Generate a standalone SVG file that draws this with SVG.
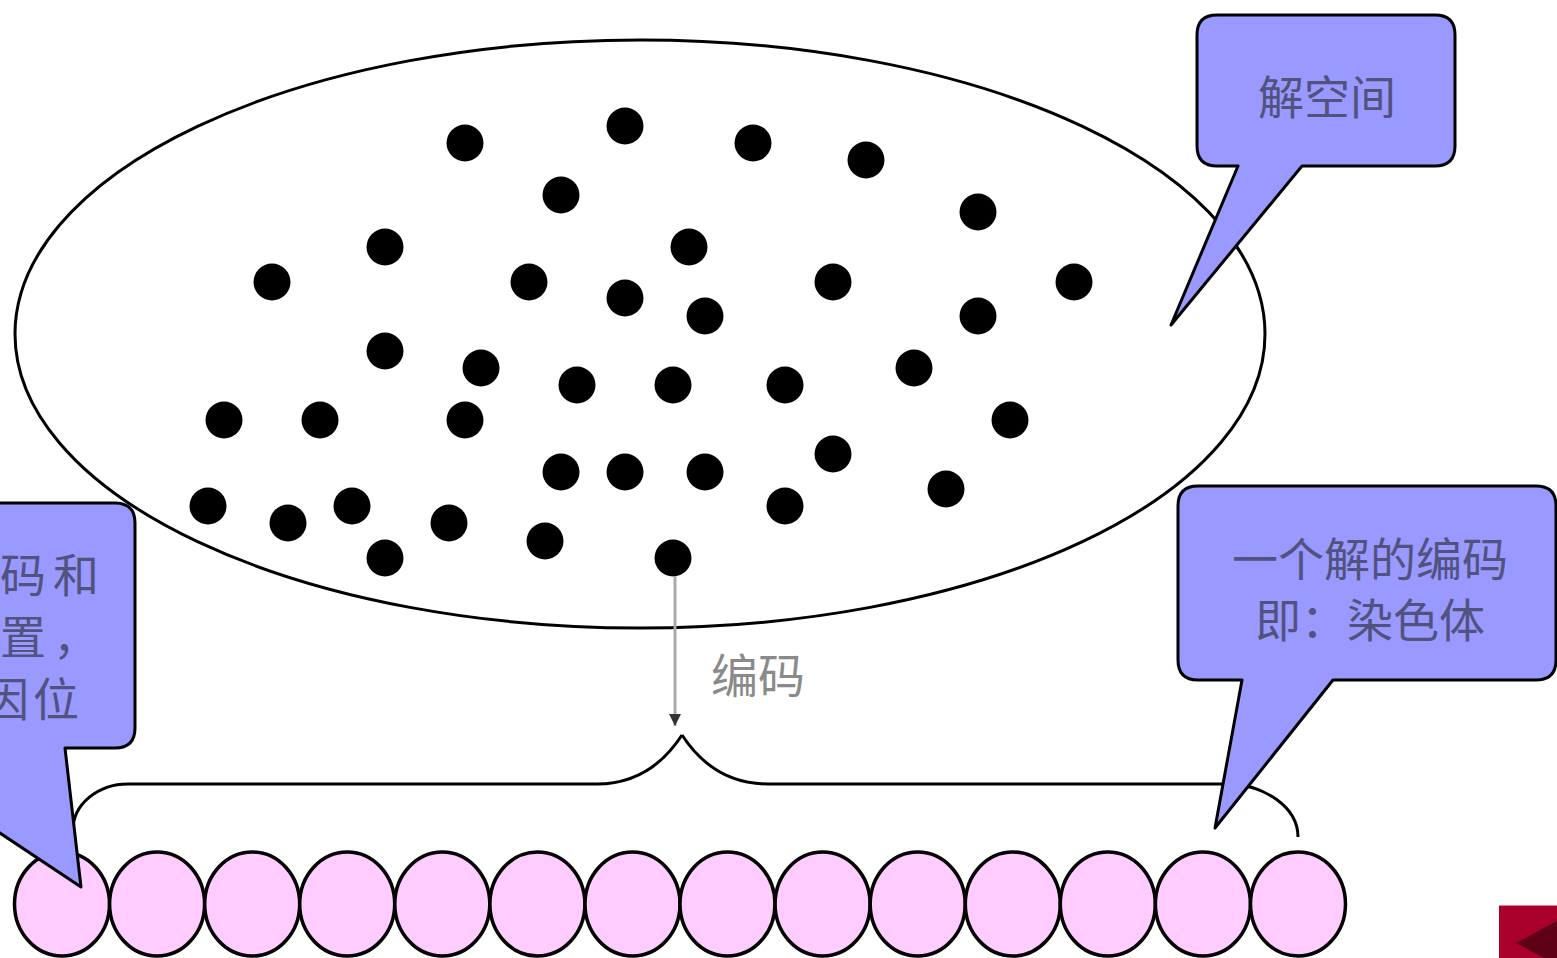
<svg xmlns="http://www.w3.org/2000/svg" width="1557" height="958" viewBox="0 0 1557 958">
<style>
.line{fill:none;stroke:#000;stroke-width:3}
.dot{fill:#000}
.bead{fill:#ffccff;stroke:#000;stroke-width:3.5}
.call{fill:#9999ff;stroke:#000;stroke-width:3;stroke-linejoin:round}
.ct{font-family:"Noto Sans CJK SC","Noto Sans",sans-serif;font-size:46px;fill:#52527e;dominant-baseline:central}
.lbl{font-family:"Noto Sans CJK SC","Noto Sans",sans-serif;font-size:47px;fill:#8a8a8a;dominant-baseline:central}
</style>
<defs>
<marker id="ah" viewBox="0 0 10 10" refX="10" refY="5" markerWidth="12" markerHeight="14" markerUnits="userSpaceOnUse" orient="auto">
<path d="M0,0 L10,5 L0,10 Z" fill="#333"/>
</marker>
</defs>
<rect width="1557" height="958" fill="#fff"/>
<g id="solution-space">
<ellipse cx="640" cy="334" rx="625" ry="294" class="line"/>
<g id="points">
<circle class="dot" cx="465" cy="143" r="18.5"/>
<circle class="dot" cx="625" cy="126" r="18.5"/>
<circle class="dot" cx="753" cy="143" r="18.5"/>
<circle class="dot" cx="866" cy="160" r="18.5"/>
<circle class="dot" cx="561" cy="195" r="18.5"/>
<circle class="dot" cx="978" cy="212" r="18.5"/>
<circle class="dot" cx="385" cy="247" r="18.5"/>
<circle class="dot" cx="689" cy="247" r="18.5"/>
<circle class="dot" cx="272" cy="282" r="18.5"/>
<circle class="dot" cx="529" cy="282" r="18.5"/>
<circle class="dot" cx="625" cy="298" r="18.5"/>
<circle class="dot" cx="705" cy="316" r="18.5"/>
<circle class="dot" cx="833" cy="282" r="18.5"/>
<circle class="dot" cx="1074" cy="282" r="18.5"/>
<circle class="dot" cx="978" cy="316" r="18.5"/>
<circle class="dot" cx="385" cy="351" r="18.5"/>
<circle class="dot" cx="481" cy="368" r="18.5"/>
<circle class="dot" cx="577" cy="385" r="18.5"/>
<circle class="dot" cx="673" cy="385" r="18.5"/>
<circle class="dot" cx="785" cy="385" r="18.5"/>
<circle class="dot" cx="914" cy="368" r="18.5"/>
<circle class="dot" cx="224" cy="420" r="18.5"/>
<circle class="dot" cx="320" cy="420" r="18.5"/>
<circle class="dot" cx="465" cy="420" r="18.5"/>
<circle class="dot" cx="1010" cy="420" r="18.5"/>
<circle class="dot" cx="561" cy="472" r="18.5"/>
<circle class="dot" cx="625" cy="472" r="18.5"/>
<circle class="dot" cx="705" cy="472" r="18.5"/>
<circle class="dot" cx="833" cy="454" r="18.5"/>
<circle class="dot" cx="208" cy="506" r="18.5"/>
<circle class="dot" cx="288" cy="523" r="18.5"/>
<circle class="dot" cx="352" cy="506" r="18.5"/>
<circle class="dot" cx="449" cy="523" r="18.5"/>
<circle class="dot" cx="545" cy="541" r="18.5"/>
<circle class="dot" cx="785" cy="506" r="18.5"/>
<circle class="dot" cx="946" cy="489" r="18.5"/>
<circle class="dot" cx="385" cy="558" r="18.5"/>
<circle class="dot" cx="673" cy="558" r="18.5"/>
</g>
</g>
<g id="connectors">
<line x1="675" y1="576" x2="675" y2="726" stroke="#aaaaaa" stroke-width="3" marker-end="url(#ah)"/>
<text class="lbl" x="758" y="672" text-anchor="middle">编码</text>
<path class="line" d="M682,735 Q650,784 597,784 H128 A55 46 0 0 0 73 830"/>
<path class="line" d="M682,735 Q714,784 768,784 H1225 A73 53 0 0 1 1298 837"/>
</g>
<g id="chromosome">
<ellipse class="bead" cx="62" cy="904" rx="47.5" ry="52"/>
<ellipse class="bead" cx="157.1" cy="904" rx="47.5" ry="52"/>
<ellipse class="bead" cx="252.2" cy="904" rx="47.5" ry="52"/>
<ellipse class="bead" cx="347.2" cy="904" rx="47.5" ry="52"/>
<ellipse class="bead" cx="442.3" cy="904" rx="47.5" ry="52"/>
<ellipse class="bead" cx="537.4" cy="904" rx="47.5" ry="52"/>
<ellipse class="bead" cx="632.5" cy="904" rx="47.5" ry="52"/>
<ellipse class="bead" cx="727.5" cy="904" rx="47.5" ry="52"/>
<ellipse class="bead" cx="822.6" cy="904" rx="47.5" ry="52"/>
<ellipse class="bead" cx="917.7" cy="904" rx="47.5" ry="52"/>
<ellipse class="bead" cx="1012.8" cy="904" rx="47.5" ry="52"/>
<ellipse class="bead" cx="1107.8" cy="904" rx="47.5" ry="52"/>
<ellipse class="bead" cx="1202.9" cy="904" rx="47.5" ry="52"/>
<ellipse class="bead" cx="1298" cy="904" rx="47.5" ry="52"/>
</g>
<g id="callout-space">
<path class="call" d="M1217,15 H1435 Q1455,15 1455,35 V146 Q1455,166 1435,166 H1302 L1171,325 L1238,166 H1217 Q1197,166 1197,146 V35 Q1197,15 1217,15 Z"/>
<text class="ct" x="1327" y="94" text-anchor="middle">解空间</text>
</g>
<g id="callout-gene">
<path class="call" d="M-200,503 H115 Q135,503 135,523 V728 Q135,748 115,748 H65 L81,887 L-128,748 H-200 Z"/>
<text class="ct" x="0 53" y="572">码和</text>
<text class="ct" x="0 53" y="634">置，</text>
<text class="ct" x="-17 33" y="696">因位</text>
</g>
<g id="callout-chromosome">
<path class="call" d="M1198,486 H1536 Q1556,486 1556,506 V660 Q1556,680 1536,680 H1333 L1215,828 L1242,680 H1198 Q1178,680 1178,660 V506 Q1178,486 1198,486 Z"/>
<text class="ct" x="1370" y="556" text-anchor="middle">一个解的编码</text>
<text class="ct" x="1370" y="617" text-anchor="middle">即：染色体</text>
</g>
<g id="nav-button">
<rect x="1499" y="905" width="60" height="55" fill="#a8002a"/>
<line x1="1499" y1="905.5" x2="1557" y2="905.5" stroke="#e08090" stroke-width="1"/>
<polygon points="1516,943 1557,921 1557,965" fill="#5e0016"/>
</g>
</svg>
